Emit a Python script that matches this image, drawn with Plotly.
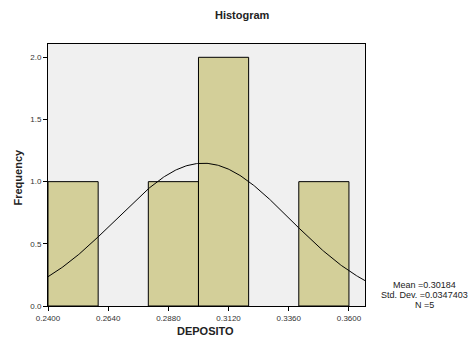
import numpy as np
import plotly.graph_objects as go

bin_start = [0.24, 0.26, 0.28, 0.30, 0.32, 0.34]
counts = [1, 0, 1, 2, 0, 1]
bin_width = 0.02
mean_val = 0.30184
std_val = 0.0347403
n_val = 5
x_ticks = [0.24, 0.264, 0.288, 0.312, 0.336, 0.36]
x_tick_labels = ["0.2400", "0.2640", "0.2880", "0.3120", "0.3360", "0.3600"]
y_ticks = [0.0, 0.5, 1.0, 1.5, 2.0]
stats_lines = ["Mean =0.30184", "Std. Dev. =0.0347403", "N =5"]

x_range = [0.24, 0.3664]
y_range = [0, 2.107]

# only non-empty bins are drawn (empty bins show no bar outline)
bar_x = [b + bin_width / 2 for b, c in zip(bin_start, counts) if c > 0]
bar_y = [c for c in counts if c > 0]

fig = go.Figure()
fig.add_trace(go.Bar(
    x=bar_x, y=bar_y, width=bin_width,
    marker=dict(color="#D3CF99", line=dict(color="black", width=1)),
    showlegend=False, hoverinfo="skip"))

xs = np.linspace(x_range[0], x_range[1], 300)
ys = n_val * bin_width / (std_val * np.sqrt(2 * np.pi)) * np.exp(-0.5 * ((xs - mean_val) / std_val) ** 2)
fig.add_trace(go.Scatter(x=xs, y=ys, mode="lines", line=dict(color="black", width=1),
                         showlegend=False, hoverinfo="skip"))

L, R, T, B = 48, 365, 44, 306
PW, PH = R - L, B - T


def px(x):
    return (x - L) / PW


def py(y):
    return (B - y) / PH


font_family = "Liberation Sans, Arial, sans-serif"
annotations = [
    dict(text="<b>Histogram</b>", x=px(242), y=py(15), font=dict(size=11, color="#222222")),
    dict(text="<b>DEPOSITO</b>", x=px(205), y=py(331), font=dict(size=11, color="#222222")),
    dict(text="<b>Frequency</b>", x=px(17.5), y=py(177), textangle=-90,
         font=dict(size=11, color="#222222")),
]
for i, line in enumerate(stats_lines):
    annotations.append(dict(text=line, x=px(424), y=py(284.5 + 10 * i),
                            font=dict(size=9, color="#222222")))
for a in annotations:
    a.update(xref="paper", yref="paper", xanchor="center", yanchor="middle", showarrow=False)

fig.update_layout(
    width=470, height=342,
    margin=dict(l=L, r=470 - R, t=T, b=342 - B),
    paper_bgcolor="white", plot_bgcolor="#F0F0F0",
    font=dict(family=font_family, size=8, color="#333333"),
    bargap=0,
    xaxis=dict(range=x_range, tickvals=x_ticks, ticktext=x_tick_labels,
               ticks="outside", ticklen=4, tickcolor="black", showgrid=False,
               zeroline=False, showline=True, linecolor="black", linewidth=1, mirror=True,
               tickfont=dict(size=8, color="#333333")),
    yaxis=dict(range=y_range, tickvals=y_ticks, tickformat=".1f",
               ticks="outside", ticklen=4, tickcolor="black", showgrid=False,
               zeroline=False, showline=True, linecolor="black", linewidth=1, mirror=True,
               tickfont=dict(size=8, color="#333333")),
    annotations=annotations,
)

fig.write_html("out.html", config={"displayModeBar": False, "staticPlot": True})

# remove the browser's default page margin so the figure sits at the window's top-left
with open("out.html", "r", encoding="utf-8") as f:
    html = f.read()
html = html.replace("<head>", "<head><style>html,body{margin:0;padding:0;overflow:hidden;}</style>", 1)
with open("out.html", "w", encoding="utf-8") as f:
    f.write(html)
